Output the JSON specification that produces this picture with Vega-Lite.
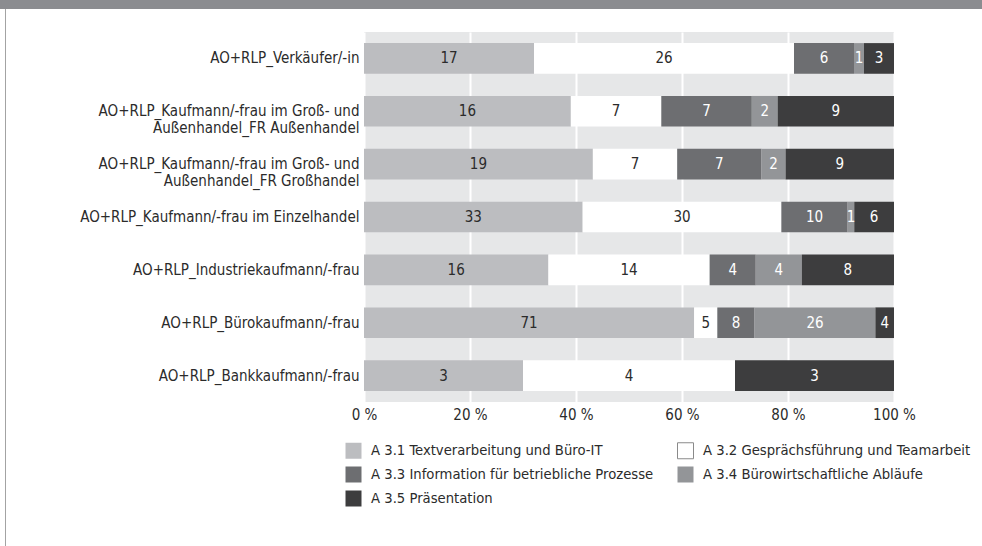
{
  "$schema": "https://vega.github.io/schema/vega-lite/v6.json",
  "padding": 0,
  "background": "white",
  "spacing": 0,
  "bounds": "flush",
  "config": {
    "view": {"stroke": null},
    "font": "DejaVu Sans Condensed, Liberation Sans Narrow, sans-serif"
  },
  "vconcat": [
    {
      "width": 982,
      "height": 9,
      "view": {"fill": "#8b8c90", "stroke": null},
      "data": {"values": []},
      "mark": "rect"
    },
    {
      "spacing": 0,
      "bounds": "flush",
      "hconcat": [
        {"width": 5, "height": 537, "data": {"values": []}, "mark": "rect"},
        {
          "width": 1,
          "height": 537,
          "view": {"fill": "#a3a3a3", "stroke": null},
          "data": {"values": []},
          "mark": "rect"
        },
        {"width": 358, "height": 1, "data": {"values": []}, "mark": "rect"},
        {
          "spacing": 0,
          "bounds": "flush",
          "vconcat": [
            {"width": 530, "height": 23, "data": {"values": []}, "mark": "rect"},
            {
              "width": 530,
              "height": 370,
              "view": {"fill": "#e6e7e8", "stroke": null},
              "data": {
                "values": [
                  {"job": "AO+RLP_Verkäufer/-in", "k": 1, "topic": "A 3.1 Textverarbeitung und Büro-IT", "n": 17},
                  {"job": "AO+RLP_Verkäufer/-in", "k": 2, "topic": "A 3.2 Gesprächsführung und Teamarbeit", "n": 26},
                  {"job": "AO+RLP_Verkäufer/-in", "k": 3, "topic": "A 3.3 Information für betriebliche Prozesse", "n": 6},
                  {"job": "AO+RLP_Verkäufer/-in", "k": 4, "topic": "A 3.4 Bürowirtschaftliche Abläufe", "n": 1},
                  {"job": "AO+RLP_Verkäufer/-in", "k": 5, "topic": "A 3.5 Präsentation", "n": 3},
                  {"job": "AO+RLP_Kaufmann/-frau im Groß- und Außenhandel_FR Außenhandel", "k": 1, "topic": "A 3.1 Textverarbeitung und Büro-IT", "n": 16},
                  {"job": "AO+RLP_Kaufmann/-frau im Groß- und Außenhandel_FR Außenhandel", "k": 2, "topic": "A 3.2 Gesprächsführung und Teamarbeit", "n": 7},
                  {"job": "AO+RLP_Kaufmann/-frau im Groß- und Außenhandel_FR Außenhandel", "k": 3, "topic": "A 3.3 Information für betriebliche Prozesse", "n": 7},
                  {"job": "AO+RLP_Kaufmann/-frau im Groß- und Außenhandel_FR Außenhandel", "k": 4, "topic": "A 3.4 Bürowirtschaftliche Abläufe", "n": 2},
                  {"job": "AO+RLP_Kaufmann/-frau im Groß- und Außenhandel_FR Außenhandel", "k": 5, "topic": "A 3.5 Präsentation", "n": 9},
                  {"job": "AO+RLP_Kaufmann/-frau im Groß- und Außenhandel_FR Großhandel", "k": 1, "topic": "A 3.1 Textverarbeitung und Büro-IT", "n": 19},
                  {"job": "AO+RLP_Kaufmann/-frau im Groß- und Außenhandel_FR Großhandel", "k": 2, "topic": "A 3.2 Gesprächsführung und Teamarbeit", "n": 7},
                  {"job": "AO+RLP_Kaufmann/-frau im Groß- und Außenhandel_FR Großhandel", "k": 3, "topic": "A 3.3 Information für betriebliche Prozesse", "n": 7},
                  {"job": "AO+RLP_Kaufmann/-frau im Groß- und Außenhandel_FR Großhandel", "k": 4, "topic": "A 3.4 Bürowirtschaftliche Abläufe", "n": 2},
                  {"job": "AO+RLP_Kaufmann/-frau im Groß- und Außenhandel_FR Großhandel", "k": 5, "topic": "A 3.5 Präsentation", "n": 9},
                  {"job": "AO+RLP_Kaufmann/-frau im Einzelhandel", "k": 1, "topic": "A 3.1 Textverarbeitung und Büro-IT", "n": 33},
                  {"job": "AO+RLP_Kaufmann/-frau im Einzelhandel", "k": 2, "topic": "A 3.2 Gesprächsführung und Teamarbeit", "n": 30},
                  {"job": "AO+RLP_Kaufmann/-frau im Einzelhandel", "k": 3, "topic": "A 3.3 Information für betriebliche Prozesse", "n": 10},
                  {"job": "AO+RLP_Kaufmann/-frau im Einzelhandel", "k": 4, "topic": "A 3.4 Bürowirtschaftliche Abläufe", "n": 1},
                  {"job": "AO+RLP_Kaufmann/-frau im Einzelhandel", "k": 5, "topic": "A 3.5 Präsentation", "n": 6},
                  {"job": "AO+RLP_Industriekaufmann/-frau", "k": 1, "topic": "A 3.1 Textverarbeitung und Büro-IT", "n": 16},
                  {"job": "AO+RLP_Industriekaufmann/-frau", "k": 2, "topic": "A 3.2 Gesprächsführung und Teamarbeit", "n": 14},
                  {"job": "AO+RLP_Industriekaufmann/-frau", "k": 3, "topic": "A 3.3 Information für betriebliche Prozesse", "n": 4},
                  {"job": "AO+RLP_Industriekaufmann/-frau", "k": 4, "topic": "A 3.4 Bürowirtschaftliche Abläufe", "n": 4},
                  {"job": "AO+RLP_Industriekaufmann/-frau", "k": 5, "topic": "A 3.5 Präsentation", "n": 8},
                  {"job": "AO+RLP_Bürokaufmann/-frau", "k": 1, "topic": "A 3.1 Textverarbeitung und Büro-IT", "n": 71},
                  {"job": "AO+RLP_Bürokaufmann/-frau", "k": 2, "topic": "A 3.2 Gesprächsführung und Teamarbeit", "n": 5},
                  {"job": "AO+RLP_Bürokaufmann/-frau", "k": 3, "topic": "A 3.3 Information für betriebliche Prozesse", "n": 8},
                  {"job": "AO+RLP_Bürokaufmann/-frau", "k": 4, "topic": "A 3.4 Bürowirtschaftliche Abläufe", "n": 26},
                  {"job": "AO+RLP_Bürokaufmann/-frau", "k": 5, "topic": "A 3.5 Präsentation", "n": 4},
                  {"job": "AO+RLP_Bankkaufmann/-frau", "k": 1, "topic": "A 3.1 Textverarbeitung und Büro-IT", "n": 3},
                  {"job": "AO+RLP_Bankkaufmann/-frau", "k": 2, "topic": "A 3.2 Gesprächsführung und Teamarbeit", "n": 4},
                  {"job": "AO+RLP_Bankkaufmann/-frau", "k": 5, "topic": "A 3.5 Präsentation", "n": 3}
                ]
              },
              "transform": [
                {"stack": "n", "groupby": ["job"], "sort": [{"field": "k"}], "offset": "normalize", "as": ["x0", "x1"]},
                {"calculate": "(datum.x0 + datum.x1) / 2", "as": "mid"}
              ],
              "encoding": {
                "y": {
                  "field": "job",
                  "type": "nominal",
                  "sort": null,
                  "scale": {"paddingInner": 0.42, "paddingOuter": 0.21},
                  "axis": {
                    "title": null,
                    "ticks": false,
                    "tickSize": 0,
                    "domain": false,
                    "labelFontSize": 15,
                    "labelColor": "#2b2b2b",
                    "labelPadding": 5,
                    "labelLimit": 400,
                    "labelLineHeight": 17,
                    "labelExpr": "split(replace(datum.label, 'und Außenhandel', 'und\\nAußenhandel'), '\\n')"
                  }
                }
              },
              "layer": [
                {
                  "mark": {"type": "bar"},
                  "encoding": {
                    "x": {
                      "field": "x0",
                      "type": "quantitative",
                      "scale": {"domain": [0, 1], "nice": false},
                      "axis": {
                        "title": null,
                        "values": [0, 0.2, 0.4, 0.6, 0.8, 1],
                        "labelExpr": "format(datum.value * 100, 'd') + ' %'",
                        "grid": true,
                        "gridColor": "white",
                        "gridWidth": 2,
                        "ticks": false,
                        "tickSize": 0,
                        "domain": false,
                        "labelFontSize": 15,
                        "labelColor": "#2b2b2b",
                        "labelPadding": 5,
                        "labelFlush": false,
                        "labelOverlap": false
                      }
                    },
                    "x2": {"field": "x1"},
                    "color": {
                      "field": "topic",
                      "type": "nominal",
                      "scale": {
                        "domain": [
                          "A 3.1 Textverarbeitung und Büro-IT",
                          "A 3.2 Gesprächsführung und Teamarbeit",
                          "A 3.3 Information für betriebliche Prozesse",
                          "A 3.4 Bürowirtschaftliche Abläufe",
                          "A 3.5 Präsentation"
                        ],
                        "range": ["#bcbdc0", "#ffffff", "#6d6e71", "#939598", "#3d3d3e"]
                      },
                      "legend": {
                        "title": null,
                        "orient": "none",
                        "direction": "horizontal",
                        "legendX": 345,
                        "legendY": 442,
                        "columns": 2,
                        "symbolType": "square",
                        "symbolSize": 256,
                        "symbolStrokeWidth": 1,
                        "labelFontSize": 14.7,
                        "labelColor": "#2b2b2b",
                        "labelOffset": 9,
                        "labelLimit": 400,
                        "rowPadding": 3,
                        "columnPadding": 21,
                        "encode": {
                          "symbols": {
                            "update": {
                              "stroke": {"signal": "datum.value === 'A 3.2 Gesprächsführung und Teamarbeit' ? '#8a8a8a' : 'transparent'"}
                            }
                          }
                        }
                      }
                    }
                  }
                },
                {
                  "mark": {"type": "text", "align": "center", "baseline": "middle", "fontSize": 15},
                  "encoding": {
                    "x": {"field": "mid", "type": "quantitative"},
                    "text": {"field": "n", "type": "quantitative"},
                    "color": {
                      "condition": {"test": "datum.k >= 3", "value": "#ffffff"},
                      "value": "#2b2b2b"
                    }
                  }
                }
              ]
            }
          ]
        }
      ]
    }
  ]
}
